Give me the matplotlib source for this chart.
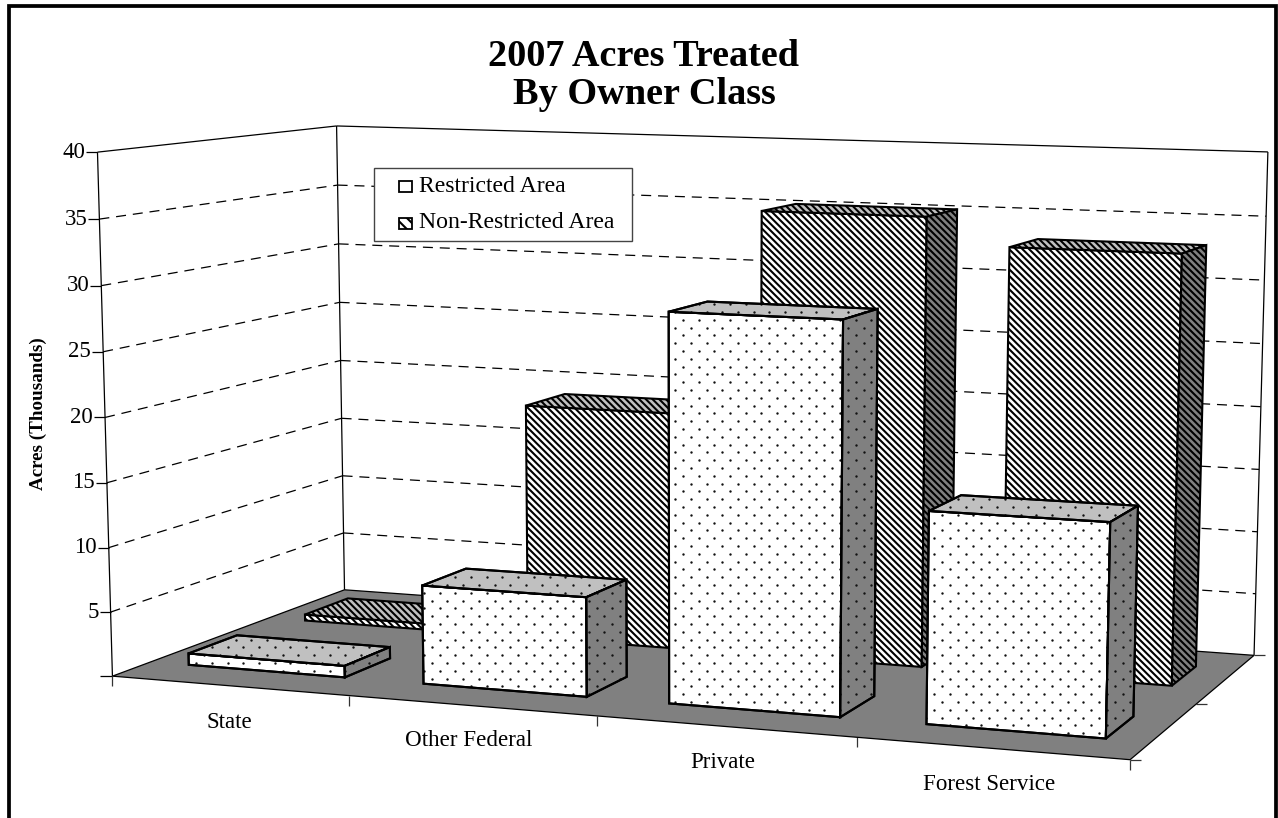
import numpy as np
import matplotlib
matplotlib.use('Agg')
import matplotlib.pyplot as plt
from matplotlib.patches import Polygon, Rectangle

plt.rcParams['font.family'] = ['Liberation Serif', 'DejaVu Serif']
plt.rcParams['hatch.linewidth'] = 1.5

# Chart data (acres, thousands)
categories = ['State', 'Other Federal', 'Private', 'Forest Service']
restricted = [0.9, 7.6, 29.25, 15.7]
non_restricted = [0.5, 18.95, 35.2, 33.1]
y_ticks = [5, 10, 15, 20, 25, 30, 35, 40]
y_max = 40

# Where the chart box corners land on the page: (category, depth, value) -> (px, py)
box_points = [
    (0, 0, 0, 112, 676), (4, 0, 0, 1130, 760), (0, 1, 0, 345, 590), (4, 1, 0, 1254, 655),
    (0, 0, 40, 98, 152), (0, 1, 40, 336, 126), (4, 1, 40, 1268, 152),
]


def fit_camera(points):
    rows = []
    for x, d, z, px, py in points:
        rows.append([x, d, z, 1, 0, 0, 0, 0, -px * x, -px * d, -px * z, -px])
        rows.append([0, 0, 0, 0, x, d, z, 1, -py * x, -py * d, -py * z, -py])
    return np.linalg.svd(np.array(rows, dtype=float))[2][-1].reshape(3, 4)


cam = fit_camera(box_points)


def project(x, d, z):
    u = cam @ np.array([x, d, z, 1.0])
    return u[0] / u[2], u[1] / u[2]


fig = plt.figure(figsize=(12.78, 8.18), dpi=100)
ax = fig.add_axes([0, 0, 1, 1])
ax.set_xlim(0, 1278)
ax.set_ylim(818, 0)
ax.axis('off')

# Outer frame
ax.add_patch(Rectangle((9, 5.5), 1267, 830, fc='white', ec='black', lw=2.7, zorder=0))


def line(p, q, **kw):
    kw.setdefault('color', 'black')
    kw.setdefault('lw', 0.9)
    ax.plot([p[0], q[0]], [p[1], q[1]], solid_capstyle='butt', zorder=1, **kw)


# Floor
floor = [project(0, 0, 0), project(4, 0, 0), project(4, 1, 0), project(0, 1, 0)]
ax.add_patch(Polygon(floor, fc='#808080', ec='black', lw=0.9, zorder=1.5))

# Walls
line(project(0, 0, 0), project(0, 0, y_max))
line(project(0, 1, 0), project(0, 1, y_max))
line(project(4, 1, 0), project(4, 1, y_max))
line(project(0, 0, y_max), project(0, 1, y_max))
line(project(0, 1, y_max), project(4, 1, y_max))

# Gridlines and value ticks
for v in y_ticks:
    a = project(0, 0, v)
    b = project(0, 1, v)
    c = project(4, 1, v)
    if v < y_max:
        line(a, b, ls=(0, (8, 5.5)), lw=0.9)
        line(b, c, ls=(0, (8, 5.5)), lw=0.9)
    line((a[0] - 11, a[1]), a)
    ax.text(a[0] - 12, a[1], str(v), ha='right', va='center', fontsize=16.5)
o = project(0, 0, 0)
line((o[0] - 12, o[1]), o)

# Category ticks along the front of the floor, depth ticks along the right side
for i in range(5):
    p = project(i, 0, 0)
    line(p, (p[0], p[1] + 10), color='#333333')
for d in [0, 0.5, 1]:
    p = project(4, d, 0)
    line(p, (p[0] + 11, p[1]), color='#333333')

# Page grid for the dotted fill
gx, gy = np.meshgrid(np.arange(0, 1278, 15.7), np.arange(0, 818, 7.8))
gx = gx + 7.85 * (np.arange(gx.shape[0]) % 2)[:, None]

order = [2]


def next_z():
    order[0] += 0.01
    return order[0]


def face(verts, color, pattern):
    if pattern == 'stripes':
        ax.add_patch(Polygon(verts, fc=color, ec='black', lw=1.5, hatch='\\\\\\\\\\', joinstyle='miter', zorder=next_z()))
    else:
        patch = Polygon(verts, fc=color, ec='black', lw=1.5, joinstyle='miter', zorder=next_z())
        ax.add_patch(patch)
        dots = ax.scatter(gx.ravel(), gy.ravel(), s=3.0, c='#111111', linewidths=0, zorder=next_z())
        dots.set_clip_path(patch)
        ax.add_patch(Polygon(verts, fc='none', ec='black', lw=1.5, joinstyle='miter', zorder=next_z()))


def bar(i, value, d0, d1, pattern, gap=0.165):
    x0, x1 = i + gap, i + 1 - gap
    # front, top, right side
    face([project(x0, d0, 0), project(x1, d0, 0), project(x1, d0, value), project(x0, d0, value)], 'white', pattern)
    face([project(x0, d0, value), project(x1, d0, value), project(x1, d1, value), project(x0, d1, value)], '#c0c0c0', pattern)
    face([project(x1, d0, 0), project(x1, d1, 0), project(x1, d1, value), project(x1, d0, value)], '#808080', pattern)


depth_restricted = (0.15, 0.35)
depth_non_restricted = (0.648, 0.848)
for i, v in enumerate(non_restricted):
    bar(i, v, *depth_non_restricted, 'stripes')
for i, v in enumerate(restricted):
    bar(i, v, *depth_restricted, 'dots')

# Legend
ax.add_patch(Rectangle((374, 168), 258, 73, fc='white', ec='#444444', lw=1.0, zorder=5))
ax.add_patch(Rectangle((399, 181), 13, 11, fc='white', ec='black', lw=1.3, zorder=6))
ax.add_patch(Rectangle((399, 218), 13, 11, fc='white', ec='black', lw=1.3, hatch='\\\\\\', zorder=6))
ax.text(419, 186, 'Restricted Area', fontsize=17.1, va='center', zorder=6)
ax.text(419, 223, 'Non-Restricted Area', fontsize=17.1, va='center', zorder=6)

# Text
ax.text(644, 57, '2007 Acres Treated', fontsize=27.5, fontweight='bold', ha='center', va='center')
ax.text(644, 94, 'By Owner Class', fontsize=27.5, fontweight='bold', ha='center', va='center')
ax.text(38, 414, 'Acres (Thousands)', fontsize=13.7, fontweight='bold', rotation=90, ha='center', va='center')
for name, px, py in zip(categories, [229, 469, 723, 989], [723, 741, 762, 784]):
    ax.text(px, py, name, fontsize=16.6, ha='center', va='center')

fig.savefig('out.png', dpi=100)
